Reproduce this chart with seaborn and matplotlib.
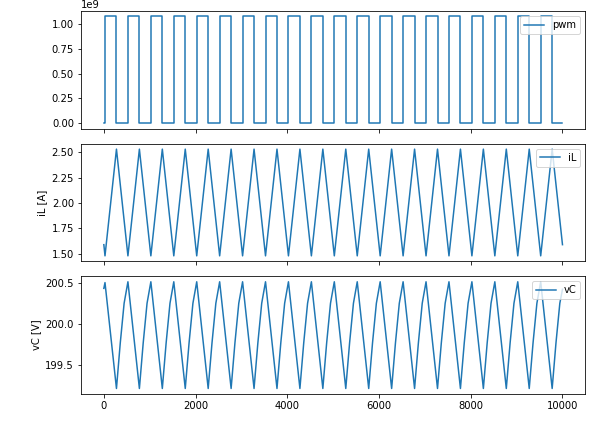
import matplotlib
matplotlib.use("Agg")
import matplotlib.pyplot as plt
import seaborn as sns

# switching instants (pwm edges / iL corners)
edge_time = [
    0, 25, 275, 525, 775, 1025, 1275, 1525, 1775, 2025, 2275,
    2525, 2775, 3025, 3275, 3525, 3775, 4025, 4275, 4525, 4775,
    5025, 5275, 5525, 5775, 6025, 6275, 6525, 6775, 7025, 7275,
    7525, 7775, 8025, 8275, 8525, 8775, 9025, 9275, 9525, 9775, 10000,
]

pwm_values = [
    0, 1.08e9, 0, 1.08e9, 0, 1.08e9, 0, 1.08e9, 0, 1.08e9, 0,
    1.08e9, 0, 1.08e9, 0, 1.08e9, 0, 1.08e9, 0, 1.08e9, 0,
    1.08e9, 0, 1.08e9, 0, 1.08e9, 0, 1.08e9, 0, 1.08e9, 0,
    1.08e9, 0, 1.08e9, 0, 1.08e9, 0, 1.08e9, 0, 1.08e9, 0, 0,
]

il_values = [
    1.59, 1.48, 2.53, 1.48, 2.53, 1.48, 2.53, 1.48, 2.53, 1.48, 2.53,
    1.48, 2.53, 1.48, 2.53, 1.48, 2.53, 1.48, 2.53, 1.48, 2.53,
    1.48, 2.53, 1.48, 2.53, 1.48, 2.53, 1.48, 2.53, 1.48, 2.53,
    1.48, 2.53, 1.48, 2.53, 1.48, 2.53, 1.48, 2.53, 1.48, 2.53, 1.59,
]

vc_time = [
    0, 25,
    275, 358, 442, 525,
    775, 858, 942, 1025,
    1275, 1358, 1442, 1525,
    1775, 1858, 1942, 2025,
    2275, 2358, 2442, 2525,
    2775, 2858, 2942, 3025,
    3275, 3358, 3442, 3525,
    3775, 3858, 3942, 4025,
    4275, 4358, 4442, 4525,
    4775, 4858, 4942, 5025,
    5275, 5358, 5442, 5525,
    5775, 5858, 5942, 6025,
    6275, 6358, 6442, 6525,
    6775, 6858, 6942, 7025,
    7275, 7358, 7442, 7525,
    7775, 7858, 7942, 8025,
    8275, 8358, 8442, 8525,
    8775, 8858, 8942, 9025,
    9275, 9358, 9442, 9525,
    9775, 9858, 9942, 10000,
]

vc_values = [
    200.43, 200.50,
    199.22, 199.77, 200.25, 200.51,
    199.22, 199.77, 200.25, 200.51,
    199.22, 199.77, 200.25, 200.51,
    199.22, 199.77, 200.25, 200.51,
    199.22, 199.77, 200.25, 200.51,
    199.22, 199.77, 200.25, 200.51,
    199.22, 199.77, 200.25, 200.51,
    199.22, 199.77, 200.25, 200.51,
    199.22, 199.77, 200.25, 200.51,
    199.22, 199.77, 200.25, 200.51,
    199.22, 199.77, 200.25, 200.51,
    199.22, 199.77, 200.25, 200.51,
    199.22, 199.77, 200.25, 200.51,
    199.22, 199.77, 200.25, 200.51,
    199.22, 199.77, 200.25, 200.51,
    199.22, 199.77, 200.25, 200.51,
    199.22, 199.77, 200.25, 200.51,
    199.22, 199.77, 200.25, 200.51,
    199.22, 199.77, 200.25, 200.51,
    199.22, 199.77, 200.25, 200.42,
]

fig, axes = plt.subplots(3, 1, figsize=(613 / 72, 429 / 72), dpi=72, sharex=True)
fig.subplots_adjust(left=0.132, right=0.955, top=0.974, bottom=0.082, hspace=0.13)

# pwm
ax = axes[0]
sns.lineplot(x=edge_time, y=pwm_values, ax=ax, estimator=None, sort=False,
             drawstyle="steps-post", label="pwm", color="#1f77b4")
ax.legend(loc="upper right")

# inductor current
ax = axes[1]
sns.lineplot(x=edge_time, y=il_values, ax=ax, estimator=None, sort=False,
             label="iL", color="#1f77b4")
ax.set_ylabel("iL [A]")
ax.legend(loc="upper right")

# capacitor voltage
ax = axes[2]
sns.lineplot(x=vc_time, y=vc_values, ax=ax, estimator=None, sort=False,
             label="vC", color="#1f77b4")
ax.set_ylabel("vC [V]")
ax.legend(loc="upper right")

fig.savefig("out.png", dpi=72)
